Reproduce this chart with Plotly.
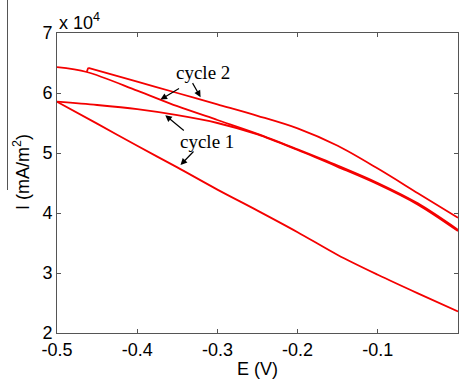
import plotly.graph_objects as go

# ---- data (current in units of 1e4 mA/m^2) ----
grid_x = [-0.5, -0.45, -0.4, -0.35, -0.3, -0.25, -0.2, -0.15, -0.1, -0.05, 0.0]

# cycle 1
c1_upper_y = [5.855, 5.80, 5.73, 5.63, 5.50, 5.31, 5.05, 4.77, 4.48, 4.14, 3.70]
c1_lower_y = [5.855, 5.49, 5.12, 4.76, 4.39, 4.04, 3.68, 3.30, 2.97, 2.66, 2.36]

# cycle 2 lower branch (includes start segment before step)
c2_lower_x = [-0.5, -0.463, -0.4, -0.35, -0.3, -0.25, -0.2, -0.15, -0.1, -0.05, 0.0]
c2_lower_y = [6.43, 6.35, 6.04, 5.78, 5.55, 5.32, 5.06, 4.79, 4.50, 4.16, 3.72]
# small step between the branches
c2_step_x = [-0.463, -0.461]
c2_step_y = [6.35, 6.42]
# cycle 2 upper branch (after the small step)
c2_upper_x = [-0.461, -0.4, -0.35, -0.3, -0.25, -0.2, -0.15, -0.1, -0.05, 0.0]
c2_upper_y = [6.42, 6.19, 6.00, 5.81, 5.62, 5.41, 5.12, 4.74, 4.33, 3.92]

x_ticks = [-0.5, -0.4, -0.3, -0.2, -0.1, 0]
x_tick_labels = ["-0.5", "-0.4", "-0.3", "-0.2", "-0.1", "0"]
y_ticks = [2, 3, 4, 5, 6, 7]
y_tick_labels = ["2", "3", "4", "5", "6", "7"]

RED = "#f40000"
LW = 1.8

fig = go.Figure()
for xs, ys, shape in [
    (grid_x, c1_upper_y, "spline"),
    (grid_x, c1_lower_y, "spline"),
    (c2_lower_x, c2_lower_y, "spline"),
    (c2_step_x, c2_step_y, "linear"),
    (c2_upper_x, c2_upper_y, "spline"),
]:
    fig.add_trace(go.Scatter(x=xs, y=ys, mode="lines",
                             line=dict(color=RED, width=LW, shape=shape, smoothing=0.9),
                             showlegend=False, hoverinfo="skip"))

tick_font = dict(family="Liberation Sans, Arial", size=18, color="black")
axis_common = dict(showline=True, linecolor="#555", linewidth=1, mirror="ticks",
                   ticks="inside", ticklen=4, tickcolor="#555", showgrid=False,
                   zeroline=False, automargin=False, tickfont=tick_font)

fig.update_xaxes(range=[-0.5, 0], tickvals=x_ticks, ticktext=x_tick_labels, **axis_common)
fig.update_yaxes(range=[2, 7], tickvals=y_ticks, ticktext=y_tick_labels, **axis_common)

L, R, T, B = 57, 5, 33, 51
W, H = 463, 384
plot_w, plot_h = W - L - R, H - T - B


def px_to_paper(px, py):
    return (px - L) / plot_w, (H - B - py) / plot_h


ann_font = dict(family="Liberation Serif, Times New Roman", size=19, color="black")
annotations = [
    dict(text="cycle 2", x=-0.3176, y=6.35, xref="x", yref="y", showarrow=False,
         xanchor="center", yanchor="middle", font=ann_font),
    dict(text="cycle 1", x=-0.3126, y=5.20, xref="x", yref="y", showarrow=False,
         xanchor="center", yanchor="middle", font=ann_font),
]
arrows = [
    ((-0.346, 6.09), (-0.371, 5.89)),
    ((-0.332, 6.19), (-0.321, 5.93)),
    ((-0.340, 5.355), (-0.365, 5.63)),
    ((-0.328, 5.05), (-0.346, 4.80)),
]
for (tx, ty), (hx, hy) in arrows:
    annotations.append(dict(text="", x=hx, y=hy, ax=tx, ay=ty, xref="x", yref="y",
                            axref="x", ayref="y", showarrow=True, arrowhead=2,
                            arrowsize=1.1, arrowwidth=1.2, arrowcolor="black"))

annotations.append(dict(text="x 10<sup>4</sup>", x=0, y=1.0, xref="paper", yref="paper",
                        xanchor="left", yanchor="bottom", showarrow=False, yshift=-2,
                        font=tick_font))
yx, yy = px_to_paper(21, 172)
annotations.append(dict(text="I (mA/m<sup>2</sup>)", x=yx, y=yy, xref="paper", yref="paper",
                        xanchor="center", yanchor="middle",
                        showarrow=False, textangle=-90, font=tick_font))
ex, ey = px_to_paper(257, 369)
annotations.append(dict(text="E (V)", x=ex, y=ey, xref="paper", yref="paper",
                        xanchor="center", yanchor="middle",
                        showarrow=False, font=tick_font))

fig.update_layout(
    width=W, height=H,
    margin=dict(l=L, r=R, t=T, b=B),
    paper_bgcolor="white", plot_bgcolor="white",
    annotations=annotations,
)

# thin vertical line at far left
lx, ly0 = px_to_paper(7.5, 0)
_, ly1 = px_to_paper(7.5, 190)
fig.add_shape(type="line", xref="paper", yref="paper",
              x0=lx, x1=lx, y0=ly0, y1=ly1, line=dict(color="#555", width=1))

fig.write_html("out.html", config={"displayModeBar": False},
               post_script="document.body.style.margin='0px';document.body.style.overflow='hidden';")
